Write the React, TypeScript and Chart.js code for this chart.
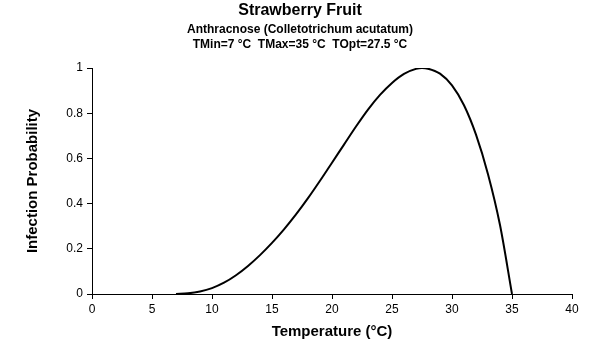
import React, { useEffect, useRef } from "react";
import { Chart, registerables } from "chart.js";

Chart.register(...registerables);

const titleText = "Strawberry Fruit";
const subtitleLines = ["Anthracnose (Colletotrichum acutatum)", "TMin=7 °C  TMax=35 °C  TOpt=27.5 °C"];
const xTitle = "Temperature (°C)";
const yTitle = "Infection Probability";

const temperatures = [7, 8, 9, 10, 11, 12, 13, 14, 15, 16, 17, 18, 19, 20, 21, 22, 23, 24, 25, 26, 27, 27.5, 28, 29, 30, 31, 32, 33, 34, 35];
const probabilities = [0, 0.003, 0.011, 0.026, 0.05, 0.083, 0.124, 0.172, 0.226, 0.286, 0.352, 0.424, 0.501, 0.581, 0.661, 0.741, 0.816, 0.881, 0.934, 0.974, 0.996, 1, 0.997, 0.975, 0.923, 0.835, 0.705, 0.53, 0.305, 0];

const xMin = 0;
const xMax = 40;
const xStep = 5;
const yMin = 0;
const yMax = 1;
const yStep = 0.2;

export default function App() {
  const canvasRef = useRef<HTMLCanvasElement | null>(null);

  useEffect(() => {
    document.body.style.margin = "0";
    const canvas = canvasRef.current;
    if (!canvas) return;
    const font = "Arial, 'Liberation Sans', Helvetica, sans-serif";
    const chart = new Chart(canvas, {
      type: "line",
      data: {
        datasets: [
          {
            data: temperatures.map((t, i) => ({ x: t, y: probabilities[i] })),
            borderColor: "#000000",
            borderWidth: 2,
            pointRadius: 0,
            fill: false,
            cubicInterpolationMode: "monotone",
          },
        ],
      },
      options: {
        animation: false,
        responsive: false,
        layout: { padding: { left: 14, right: 14, top: 0, bottom: 0 } },
        plugins: {
          legend: { display: false },
          tooltip: { enabled: false },
          title: {
            display: true,
            text: titleText,
            color: "#000",
            font: { family: font, size: 16, weight: "bold", lineHeight: 1.2 },
            padding: { top: 1.4, bottom: 0 },
          },
          subtitle: {
            display: true,
            text: subtitleLines,
            color: "#000",
            font: { family: font, size: 12, weight: "bold", lineHeight: 1.25 },
            padding: { top: 1.9, bottom: 15.5 },
          },
        },
        scales: {
          x: {
            type: "linear",
            min: xMin,
            max: xMax,
            afterFit: (scale: any) => {
              scale.height = 66;
            },
            ticks: {
              stepSize: xStep,
              color: "#000",
              font: { family: font, size: 12 },
              padding: 3,
            },
            grid: {
              display: true,
              drawOnChartArea: false,
              drawTicks: true,
              tickLength: 5,
              color: "#000",
            },
            border: { color: "#000", width: 1 },
            title: {
              display: true,
              text: xTitle,
              color: "#000",
              font: { family: font, size: 15, weight: "bold", lineHeight: 1.2 },
              padding: { top: 0, bottom: 19 },
            },
          },
          y: {
            type: "linear",
            min: yMin,
            max: yMax,
            afterFit: (scale: any) => {
              scale.width = 78;
            },
            ticks: {
              stepSize: yStep,
              color: "#000",
              font: { family: font, size: 12 },
              padding: 4,
              callback: (v: any) => String(Math.round(Number(v) * 10) / 10),
            },
            grid: {
              display: true,
              drawOnChartArea: false,
              drawTicks: true,
              tickLength: 5,
              color: "#000",
            },
            border: { color: "#000", width: 1 },
            title: {
              display: true,
              text: yTitle,
              color: "#000",
              font: { family: font, size: 15, weight: "bold", lineHeight: 1.2 },
              padding: { top: 10, bottom: 0 },
            },
          },
          yRightSpacer: {
            type: "linear",
            position: "right",
            display: true,
            min: 0,
            max: 1,
            afterFit: (scale: any) => {
              scale.width = 14;
            },
            ticks: { display: false },
            grid: { display: false, drawTicks: false },
            border: { display: false },
            title: { display: false },
          },
        },
      },
    });
    return () => {
      chart.destroy();
    };
  }, []);

  return (
    <div style={{ width: 600, height: 360, background: "#fff" }}>
      <canvas ref={canvasRef} width={600} height={360} />
    </div>
  );
}
